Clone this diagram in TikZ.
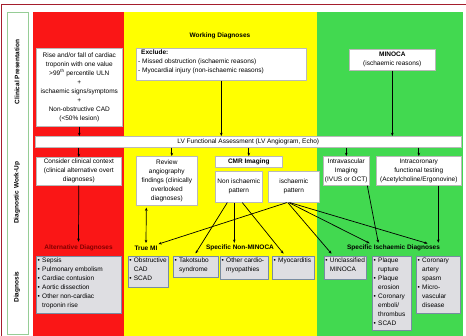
\documentclass[tikz,border=0pt]{standalone}
\usepackage{fontspec}
\setmainfont{Liberation Sans}
\usetikzlibrary{arrows.meta,calc}
\definecolor{cred}{RGB}{250,22,22}
\definecolor{cyel}{RGB}{255,255,0}
\definecolor{cgrn}{RGB}{66,217,80}
\definecolor{frm}{RGB}{165,30,45}
\definecolor{lgrn}{RGB}{150,205,150}
\definecolor{gbox}{RGB}{222,222,226}
\definecolor{gbord}{RGB}{120,140,162}
\definecolor{dred}{RGB}{130,0,0}
\newcommand\fsz{\fontsize{6.5}{9}\selectfont}
\newcommand\itm[1]{\makebox[4.5pt][l]{•}#1}
\newcommand\ind{\hspace*{4.5pt}}
\newcommand\mkbox[7]{%
  \pgfmathsetmacro\bw{#5-#3}\pgfmathsetmacro\bh{#6-#4}%
  \node[#1, anchor=north west, minimum width=\bw pt, minimum height=\bh pt] (#2) at (#3,#4) {#7};}
\tikzset{
  wbox/.style={draw=gray!55, fill=white, line width=0.6pt, inner sep=0.5pt, align=center, font=\fsz},
  gbx/.style={draw=gbord, fill=gbox, line width=0.9pt, inner sep=0pt},
  lst/.style={inner sep=0pt, align=left, font=\fsz, anchor=north west},
  lbl/.style={font=\fsz\bfseries, inner sep=1pt},
  arr/.style={-{Stealth[length=3.2pt,width=2.6pt]}, line width=0.7pt},
  darr/.style={{Stealth[length=3.2pt,width=2.6pt]}-{Stealth[length=3.2pt,width=2.6pt]}, line width=0.7pt},
}
\begin{document}
\begin{tikzpicture}[x=1pt,y=-1pt]
\useasboundingbox (0,0) rectangle (466,336);
\fill[white] (0,0) rectangle (466,336);
\draw[frm, line width=0.9pt] (1,336) -- (1,4) -- (466,4);
% columns
\fill[cred] (33,12) rectangle (124,336);
\fill[cyel] (124,12) rectangle (317,336);
\fill[cgrn] (317,12) rectangle (463,336);
% left label column
\draw[lgrn, fill=white, line width=0.8pt] (7,12) rectangle (28,334);
\node[lbl, rotate=90] (lcp) at (17,72) {Clinical Presentation};
\node[lbl, rotate=90] (ldw) at (17,193) {Diagnostic Work-Up};
\node[lbl, rotate=90] (ldg) at (17,287) {Diagnosis};
% clinical presentation
\node[lbl] (wd) at (220,36) {Working Diagnoses};
\mkbox{wbox}{rise}{36}{48}{122}{126}{Rise and/or fall of cardiac\\troponin with one value\\>99\textsuperscript{th} percentile ULN\\+\\ischaemic signs/symptoms\\+\\Non-obstructive CAD\\(<50\% lesion)}
\mkbox{wbox}{excl}{136}{48}{306}{80}{}
\node[lst] (exclT) at ([xshift=2pt,yshift=-2pt]excl.north west) {\hspace*{3pt}\textbf{Exclude:}\\- Missed obstruction (ischaemic reasons)\\- Myocardial injury (non-ischaemic reasons)};
\mkbox{wbox}{minoca}{349}{49}{435}{70}{\textbf{MINOCA}\\(ischaemic reasons)}
% LV bar
\mkbox{wbox}{lv}{35}{136}{461}{147}{LV Functional Assessment (LV Angiogram, Echo)}
% work-up boxes
\mkbox{wbox}{consid}{36}{157}{121}{185}{Consider clinical context\\(clinical alternative overt\\diagnoses)}
\mkbox{wbox}{review}{136}{156}{197}{205}{Review\\angiography\\findings (clinically\\overlooked\\diagnoses)}
\mkbox{wbox}{cmr}{215}{156}{282}{167}{\textbf{CMR Imaging}}
\mkbox{wbox}{nonisch}{215}{171}{262}{202}{Non ischaemic\\pattern}
\mkbox{wbox}{isch}{268}{171}{319}{202}{ischaemic\\pattern}
\mkbox{wbox}{ivus}{323}{156}{369}{185}{Intravascular\\Imaging\\(IVUS or OCT)}
\mkbox{wbox}{icft}{376}{156}{461}{185}{Intracoronary\\functional testing\\(Acetylcholine/Ergonovine)}
% diagnosis labels
\node[lbl, text=dred] (altl) at (78.5,248) {Alternative Diagnoses};
\node[lbl] (truemi) at (146,248) {True MI};
\node[lbl] (nml) at (240,248) {Specific Non-MINOCA};
\node[lbl] (sidl) at (393.5,248) {Specific Ischaemic Diagnoses};
% diagnosis boxes
\mkbox{gbx}{alt}{36}{256}{121}{313}{}
\node[lst] (altT) at ([xshift=1.5pt,yshift=-1.5pt]alt.north west) {\itm{Sepsis}\\\itm{Pulmonary embolism}\\\itm{Cardiac contusion}\\\itm{Aortic dissection}\\\itm{Other non-cardiac}\\\ind troponin rise};
\mkbox{gbx}{tmi}{128}{256}{168}{287}{}
\node[lst] (tmiT) at ([xshift=1.2pt,yshift=-1.5pt]tmi.north west) {\itm{Obstructive}\\\ind CAD\\\itm{SCAD}};
\mkbox{gbx}{tako}{173}{256}{218}{277}{}
\node[lst] (takoT) at ([xshift=1.5pt,yshift=-1.5pt]tako.north west) {\itm{Takotsubo}\\\ind syndrome};
\mkbox{gbx}{ocm}{220}{256}{268}{279}{}
\node[lst] (ocmT) at ([xshift=1.5pt,yshift=-1.5pt]ocm.north west) {\itm{Other cardio-}\\\ind myopathies};
\mkbox{gbx}{myo}{272}{256}{314}{279}{}
\node[lst] (myoT) at ([xshift=1.5pt,yshift=-1.5pt]myo.north west) {\itm{Myocarditis}};
\mkbox{gbx}{uncl}{324}{256}{366}{279}{}
\node[lst] (unclT) at ([xshift=1.2pt,yshift=-1.5pt]uncl.north west) {\itm{Unclassified}\\\ind MINOCA};
\mkbox{gbx}{plq}{372}{256}{411}{330}{}
\node[lst] (plqT) at ([xshift=1.5pt,yshift=-1.5pt]plq.north west) {\itm{Plaque}\\\ind rupture\\\itm{Plaque}\\\ind erosion\\\itm{Coronary}\\\ind emboli/\\\ind thrombus\\\itm{SCAD}};
\mkbox{gbx}{spa}{416}{256}{460}{313}{}
\node[lst] (spaT) at ([xshift=1.5pt,yshift=-1.5pt]spa.north west) {\itm{Coronary}\\\ind artery\\\ind spasm\\\itm{Micro-}\\\ind vascular\\\ind disease};
% arrows top
\draw[arr] (rise.south) -- (rise.south |- lv.north);
\draw[arr] (excl.south) -- (excl.south |- lv.north);
\draw[arr] (minoca.south) -- (minoca.south |- lv.north);
\draw[arr] (consid.north |- lv.south) -- (consid.north);
\draw[arr] ([xshift=5pt]review.north |- lv.south) -- ([xshift=5pt]review.north);
\draw[arr] (cmr.north |- lv.south) -- (cmr.north);
\draw[arr] (ivus.north |- lv.south) -- (ivus.north);
\draw[arr] (icft.north |- lv.south) -- (icft.north);
% arrows lower
\draw[arr, shorten >=2pt] (consid.south) -- (altl.north);
\draw[darr, shorten <=2pt, shorten >=1.5pt] ([xshift=-20.5pt]review.south) -- (truemi.north);
\draw[arr, shorten >=3pt] ([xshift=-11.5pt]nonisch.south) -- ([xshift=-2pt]tako.north);
\draw[arr, shorten >=1pt] ([xshift=-4.5pt]nonisch.south) -- ([xshift=-4.5pt]nonisch.south |- nml.north);
\draw[arr, shorten >=3pt] ([xshift=3.5pt]nonisch.south) -- ([xshift=-8pt]myo.north);
\draw[arr, shorten >=1.5pt] ([xshift=-7pt]isch.south) -- ([xshift=11pt]truemi.north);
\draw[arr, shorten >=3pt] ([xshift=-6pt]isch.south) -- ([xshift=-12pt]uncl.north);
\draw[arr, shorten >=1pt] ([xshift=-5pt]isch.south) -- ([xshift=-23pt]sidl.north);
\draw[arr, shorten >=1pt] ([xshift=-4pt]isch.south) -- ([xshift=35pt]sidl.north);
\draw[arr, shorten >=1pt] ([xshift=21pt]ivus.south) -- ([xshift=-15pt]sidl.north);
\draw[arr, shorten >=1pt] ([xshift=19.5pt]icft.south) -- ([xshift=19.5pt]icft.south |- sidl.north);
\end{tikzpicture}
\end{document}
